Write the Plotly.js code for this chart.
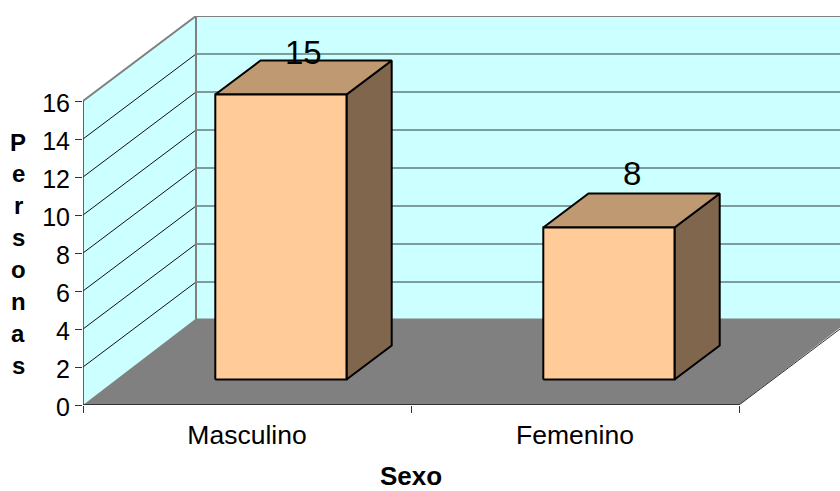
<!DOCTYPE html>
<html>
<head>
<meta charset="utf-8">
<script src="https://cdn.plot.ly/plotly-3.0.1.min.js"></script>
<style>html,body{margin:0;padding:0;background:#fff;overflow:hidden}</style>
</head>
<body>
<div id="chart" style="width:840px;height:491px"></div>
<script>
// Data
const categories = ["Masculino", "Femenino"];
const values = [15, 8];
const yTicks = [0, 2, 4, 6, 8, 10, 12, 14, 16];
const yTitle = "Personas";
const xTitle = "Sexo";

// 3D projection, in axis units
const depthX = 113 / 328;
const depthY = 85 / 19;
const floorRise = 86.5 / 19;
const floorX = categories.length;
const yMax = 16;
const barWidth = 0.4;
const barNear = 0.3;
const barDepth = 0.4;
const labelShift = [25, 37];

const font = "'Liberation Sans', Arial, sans-serif";
const traces = [];
function poly(x, y, fill, lineColor, lineWidth) {
  traces.push({
    type: "scatter", mode: "lines", x, y, fill: "toself", fillcolor: fill,
    line: { color: lineColor || fill, width: lineWidth === undefined ? 0 : lineWidth },
    hoverinfo: "skip", showlegend: false, cliponaxis: false
  });
}
function line(x, y, color, width) {
  traces.push({
    type: "scatter", mode: "lines", x, y, line: { color, width },
    hoverinfo: "skip", showlegend: false, cliponaxis: false, connectgaps: false
  });
}

// walls
poly([0, depthX, depthX, 0, 0], [yMax, yMax + depthY, depthY, 0, yMax], "#CCFFFF");
poly([depthX, floorX + depthX, floorX + depthX, depthX, depthX],
     [yMax + depthY, yMax + depthY, depthY, depthY, yMax + depthY], "#CCFFFF");

// gridlines
const inner = yTicks.filter(v => v > 0 && v < yMax);
const gx1 = [], gy1 = [], gx2 = [], gy2 = [];
inner.forEach(v => {
  gx1.push(0, depthX, null); gy1.push(v, v + depthY, null);
  gx2.push(depthX, floorX + depthX, null); gy2.push(v + depthY, v + depthY, null);
});
line(gx1, gy1, "#111111", 1);
line(gx2, gy2, "#2f3a3a", 1);

// wall edges
line([0, depthX, depthX], [yMax, yMax + depthY, depthY], "#808080", 2);
line([depthX, floorX + depthX], [yMax + depthY, yMax + depthY], "#808080", 2);

// floor
poly([0, depthX, floorX + depthX, floorX, 0], [0, floorRise, floorRise, 0, 0], "#808080");
line([floorX, floorX + depthX], [0, depthY], "#333333", 1);
line([0, 0], [0, yMax], "#333333", 1.5);
line([0, floorX], [0, 0], "#333333", 2);

// bars
values.forEach((v, i) => {
  const x0 = i + 0.5 - barWidth / 2 + barNear * depthX;
  const x1 = x0 + barWidth;
  const y0 = barNear * depthY;
  const y1 = y0 + v;
  const dx = barDepth * depthX;
  const dy = barDepth * depthY;
  poly([x1, x1 + dx, x1 + dx, x1, x1], [y0, y0 + dy, y1 + dy, y1, y0], "#80664D", "#000000", 2);
  poly([x0, x0 + dx, x1 + dx, x1, x0], [y1, y1 + dy, y1 + dy, y1, y1], "#BF9972", "#000000", 2);
  poly([x0, x1, x1, x0, x0], [y0, y0, y1, y1, y0], "#FFCC99", "#000000", 2);
});

const annotations = values.map((v, i) => ({
  x: i + 0.5 + (barNear + barDepth / 2) * depthX,
  y: v + (barNear + barDepth / 2) * depthY,
  xref: "x", yref: "y", text: String(v), showarrow: false,
  xanchor: "center", yanchor: "middle", yshift: labelShift[i],
  font: { family: font, size: 33, color: "#000" }
}));

// stacked vertical axis title, one letter per row
yTitle.split("").forEach((c, i) => {
  annotations.push({
    x: 0, xref: "paper", xshift: -65, xanchor: "center",
    y: 13.84 - i * 1.68, yref: "y", yanchor: "middle",
    text: c, showarrow: false,
    font: { family: font, size: 24, color: "#000", weight: 700 }
  });
});
annotations.push({
  x: 1, xref: "x", y: 0, yref: "y", yshift: -71, yanchor: "middle", xanchor: "center",
  text: xTitle, showarrow: false,
  font: { family: font, size: 26, color: "#000", weight: 700 }
});

const layout = {
  width: 840, height: 491,
  margin: { l: 83, r: 0, t: 16, b: 86, pad: 0 },
  paper_bgcolor: "#fff", plot_bgcolor: "rgba(0,0,0,0)",
  showlegend: false,
  font: { family: font, color: "#000" },
  xaxis: {
    range: [0, 757 / 328], showgrid: false, zeroline: false, showline: false,
    tickmode: "array", tickvals: categories.map((c, i) => i + 0.5), ticktext: categories,
    ticks: "", tickfont: { family: font, size: 26.5, color: "#000" },
    ticklabelstandoff: 11,
    minor: { tickmode: "array", tickvals: [0, 1, 2], ticks: "outside", ticklen: 7, tickcolor: "#333333", tickwidth: 1, showgrid: false }
  },
  yaxis: {
    range: [0, 389 / 19], showgrid: false, zeroline: false, showline: false,
    tickmode: "array", tickvals: yTicks, ticktext: yTicks.map(String),
    ticks: "outside", ticklen: 7, tickcolor: "#333333", tickwidth: 1,
    ticklabelshift: 2,
    tickfont: { family: font, size: 25, color: "#000" }
  },
  annotations
};
Plotly.newPlot("chart", traces, layout, { displayModeBar: false, staticPlot: true });
</script>
</body>
</html>
